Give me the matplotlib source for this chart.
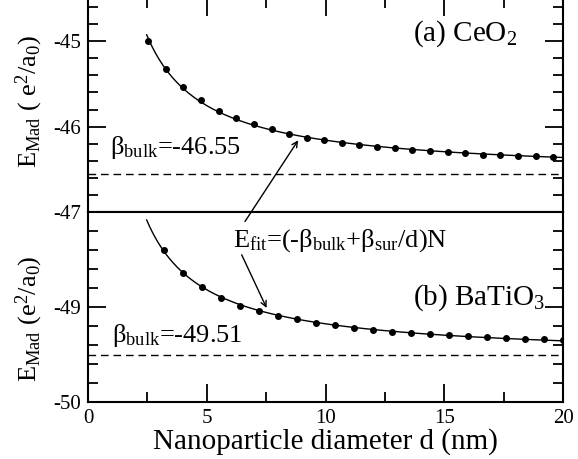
import numpy as np
import matplotlib
matplotlib.use("Agg")
from matplotlib import pyplot as plt
from matplotlib.ticker import MultipleLocator

plt.rcParams['font.family'] = ['Liberation Serif', 'DejaVu Serif']
plt.rcParams['mathtext.fontset'] = 'custom'
plt.rcParams['mathtext.rm'] = 'Liberation Serif'
plt.rcParams['mathtext.it'] = 'Liberation Serif:italic'
plt.rcParams['mathtext.bf'] = 'Liberation Serif:bold'
plt.rcParams['axes.unicode_minus'] = False

# (a) CeO2 -- Madelung energy vs diameter
d_ceo2 = [2.54, 3.28, 4.02, 4.76, 5.50, 6.25, 6.99, 7.73, 8.47, 9.21, 9.95, 10.69,
          11.43, 12.18, 12.92, 13.66, 14.40, 15.14, 15.88, 16.62, 17.36, 18.11, 18.85, 19.59]
e_ceo2 = [-45.00, -45.33, -45.54, -45.69, -45.82, -45.90, -45.97, -46.03, -46.09, -46.13,
          -46.16, -46.19, -46.22, -46.24, -46.25, -46.27, -46.29, -46.30, -46.31, -46.33,
          -46.33, -46.34, -46.35, -46.36]
bulk_ceo2 = -46.55

# (b) BaTiO3
d_bto = [3.2, 4.0, 4.8, 5.6, 6.4, 7.2, 8.0, 8.8, 9.6, 10.4, 11.2, 12.0,
         12.8, 13.6, 14.4, 15.2, 16.0, 16.8, 17.6, 18.4, 19.2, 20.0]
e_bto = [-48.40, -48.64, -48.79, -48.90, -48.99, -49.04, -49.095, -49.13, -49.17, -49.19,
         -49.22, -49.24, -49.26, -49.27, -49.28, -49.295, -49.305, -49.32, -49.33, -49.34,
         -49.34, -49.35]
bulk_bto = -49.51

fit_start = 2.47
fs_tick = 15
fs_text = 19
fs_panel = 21


def fit_curve(d, e):
    # E = a + b/d
    b, a = np.polyfit(1.0 / np.array(d), np.array(e), 1)
    dd = np.linspace(fit_start, 20, 300)
    return dd, a + b / dd


def style(ax):
    for s in ax.spines.values():
        s.set_linewidth(1.5)
    ax.xaxis.set_major_locator(MultipleLocator(5))
    ax.xaxis.set_minor_locator(MultipleLocator(2.5))
    ax.yaxis.set_major_locator(MultipleLocator(1))
    ax.yaxis.set_minor_locator(MultipleLocator(0.2))
    ax.tick_params(which='both', direction='in', left=True, right=True, width=1.3,
                   labelsize=fs_tick, pad=5, labelfontfamily='Liberation Serif')
    ax.tick_params(which='major', length=13)
    ax.tick_params(which='minor', length=7.5)
    ax.set_xlim(0, 20)


fig = plt.figure(figsize=(5.78, 4.59), dpi=100)
ax_top = fig.add_axes([0.15225, 0.53813, 0.82180, 0.46514])
ax_bot = fig.add_axes([0.15225, 0.12418, 0.82180, 0.41394])

# top panel
dd, ee = fit_curve(d_ceo2, e_ceo2)
ax_top.plot(dd, ee, color='black', lw=1.0)
ax_top.plot(d_ceo2, e_ceo2, 'o', color='black', ms=4)
ax_top.axhline(bulk_ceo2, color='black', lw=1.0, dashes=(5.5, 3.5))
style(ax_top)
ax_top.set_ylim(-47, -44.5)
ax_top.tick_params(axis='x', which='both', bottom=False, top=True,
                   labelbottom=False, labeltop=False)
ax_top.set_ylabel(r'E$_{\mathrm{Mad}}$ ( e$^{2}$/a$_{0}$)', fontsize=fs_text)
ax_top.yaxis.set_label_coords(-0.09, 0.52)
ax_top.text(13.68, -44.99, r'(a) CeO$_{2}$', fontsize=fs_panel, va='baseline')
ax_top.text(0.93, -46.32, r'β$_{\mathrm{bulk}}$=-46.55', fontsize=fs_text, va='baseline')

# bottom panel
dd, ee = fit_curve(d_bto, e_bto)
ax_bot.plot(dd, ee, color='black', lw=1.0)
ax_bot.plot(d_bto, e_bto, 'o', color='black', ms=4)
ax_bot.axhline(bulk_bto, color='black', lw=1.0, dashes=(5.5, 3.5))
style(ax_bot)
ax_bot.set_ylim(-50, -48)
ax_bot.set_yticks([-50, -49, -48])
ax_bot.set_yticklabels(['-50', '-49', ''])
ax_bot.tick_params(axis='x', which='both', top=False, bottom=True)
ax_bot.set_xlabel('Nanoparticle diameter d (nm)', fontsize=21, labelpad=0)
ax_bot.set_ylabel(r'E$_{\mathrm{Mad}}$ (e$^{2}$/a$_{0}$)', fontsize=fs_text)
ax_bot.yaxis.set_label_coords(-0.09, 0.44)
ax_bot.text(13.68, -48.98, r'(b) BaTiO$_{3}$', fontsize=fs_panel, va='baseline')
ax_bot.text(1.0, -49.365, r'β$_{\mathrm{bulk}}$=-49.51', fontsize=fs_text, va='baseline')

# fit formula with two arrows
ax_bot.text(6.1, -48.365, r'E$_{\mathrm{fit}}$=(-β$_{\mathrm{bulk}}$+β$_{\mathrm{sur}}$/d)N',
            fontsize=fs_text, va='baseline')
arrow = dict(arrowstyle='->', color='black', lw=1.0, shrinkA=0, shrinkB=0,
             mutation_scale=10)
ax_bot.annotate('', xy=(8.85, -46.16), xycoords=ax_top.transData,
                xytext=(6.61, -48.1), textcoords=ax_bot.transData,
                arrowprops=arrow, annotation_clip=False)
ax_bot.annotate('', xy=(7.52, -49.01), xytext=(6.47, -48.45),
                arrowprops=arrow, annotation_clip=False)

fig.savefig('out.png', dpi=100)
